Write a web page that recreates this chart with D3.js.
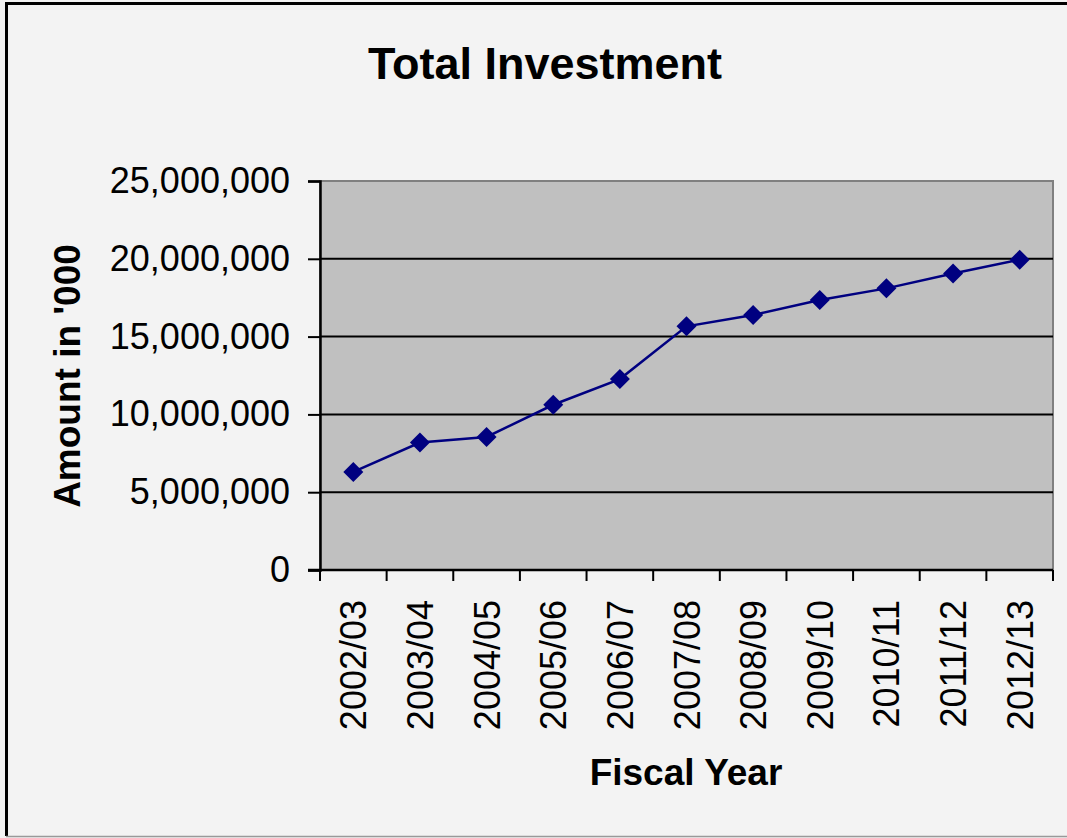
<!DOCTYPE html>
<html><head><meta charset="utf-8">
<script src="https://cdn.jsdelivr.net/npm/d3@7/dist/d3.min.js"></script>
<style>
html,body{margin:0;padding:0;background:#f3f3f3;}
svg{display:block;font-family:"Liberation Sans",Arial,sans-serif;}
</style></head>
<body>
<script>
const categories = ["2002/03","2003/04","2004/05","2005/06","2006/07","2007/08","2008/09","2009/10","2010/11","2011/12","2012/13"];
const values = [6300000,8190000,8550000,10620000,12270000,15660000,16390000,17350000,18100000,19060000,19940000];
const yTicks = [0,5000000,10000000,15000000,20000000,25000000];
const titleText = "Total Investment";
const xTitle = "Fiscal Year";
const yTitle = "Amount in '000";

const W = 1067, H = 838;
const m = {left:320, right:1053, top:181, bottom:570};

const svg = d3.select("body").append("svg").attr("width",W).attr("height",H);
svg.append("rect").attr("width",W).attr("height",H).attr("fill","#f3f3f3");
// outer frame
svg.append("line").attr("x1",6.5).attr("x2",W).attr("y1",3.5).attr("y2",3.5).attr("stroke","#000").attr("stroke-width",3);
svg.append("line").attr("x1",6.5).attr("x2",6.5).attr("y1",2).attr("y2",836).attr("stroke","#000").attr("stroke-width",3);
svg.append("line").attr("x1",6).attr("x2",W).attr("y1",836.5).attr("y2",836.5).attr("stroke","#999").attr("stroke-width",1.5);

const x = d3.scaleBand().domain(categories).range([m.left,m.right]).padding(0);
const y = d3.scaleLinear().domain([0,25000000]).range([m.bottom,m.top]);

// plot area
svg.append("rect").attr("x",m.left).attr("y",m.top).attr("width",m.right-m.left).attr("height",m.bottom-m.top)
  .attr("fill","#c0c0c0").attr("stroke","#808080").attr("stroke-width",2);

// gridlines
svg.append("g").selectAll("line").data(yTicks.filter(d=>d>0 && d<25000000)).join("line")
  .attr("x1",m.left).attr("x2",m.right).attr("y1",d=>y(d)).attr("y2",d=>y(d))
  .attr("stroke","#000").attr("stroke-width",2);

// y axis
const fmt = d3.format(",");
const yAxis = svg.append("g").attr("transform",`translate(${m.left},0)`)
  .call(d3.axisLeft(y).tickValues(yTicks).tickFormat(d=>fmt(d)).tickSize(12).tickPadding(18));
yAxis.select(".domain").attr("stroke","#000").attr("stroke-width",2.5);
yAxis.selectAll(".tick line").attr("stroke","#000").attr("stroke-width",2);
yAxis.selectAll("text").attr("font-size",36).attr("fill","#000").attr("font-family","Liberation Sans, Arial, sans-serif");

// x axis
const tickPos = categories.map(c=>x(c)).concat([m.right]);
svg.append("line").attr("x1",m.left-12).attr("x2",m.right).attr("y1",m.bottom).attr("y2",m.bottom).attr("stroke","#000").attr("stroke-width",2.5);
svg.append("g").selectAll("line").data(tickPos).join("line")
  .attr("x1",d=>d).attr("x2",d=>d).attr("y1",m.bottom).attr("y2",m.bottom+11)
  .attr("stroke","#000").attr("stroke-width",2);
svg.append("g").selectAll("text").data(categories).join("text")
  .attr("transform",d=>`translate(${x(d)+x.bandwidth()/2+13},600) rotate(-90)`)
  .attr("text-anchor","end").attr("font-size",36).attr("fill","#000").text(d=>d);

// line + markers
const line = d3.line().x((d,i)=>x(categories[i])+x.bandwidth()/2).y(d=>y(d));
svg.append("path").datum(values).attr("d",line).attr("fill","none").attr("stroke","#000080").attr("stroke-width",2.5);
svg.append("g").selectAll("path").data(values).join("path")
  .attr("d",d3.symbol(d3.symbolSquare,200))
  .attr("transform",(d,i)=>`translate(${x(categories[i])+x.bandwidth()/2},${y(d)}) rotate(45)`)
  .attr("fill","#000080");

// titles
svg.append("text").attr("x",545).attr("y",79).attr("text-anchor","middle").attr("font-size",45).attr("font-weight","bold").text(titleText);
svg.append("text").attr("x",686).attr("y",785).attr("text-anchor","middle").attr("font-size",37).attr("font-weight","bold").text(xTitle);
svg.append("text").attr("transform","translate(80,376) rotate(-90)").attr("text-anchor","middle").attr("font-size",37).attr("font-weight","bold").text(yTitle);
</script>
</body></html>
